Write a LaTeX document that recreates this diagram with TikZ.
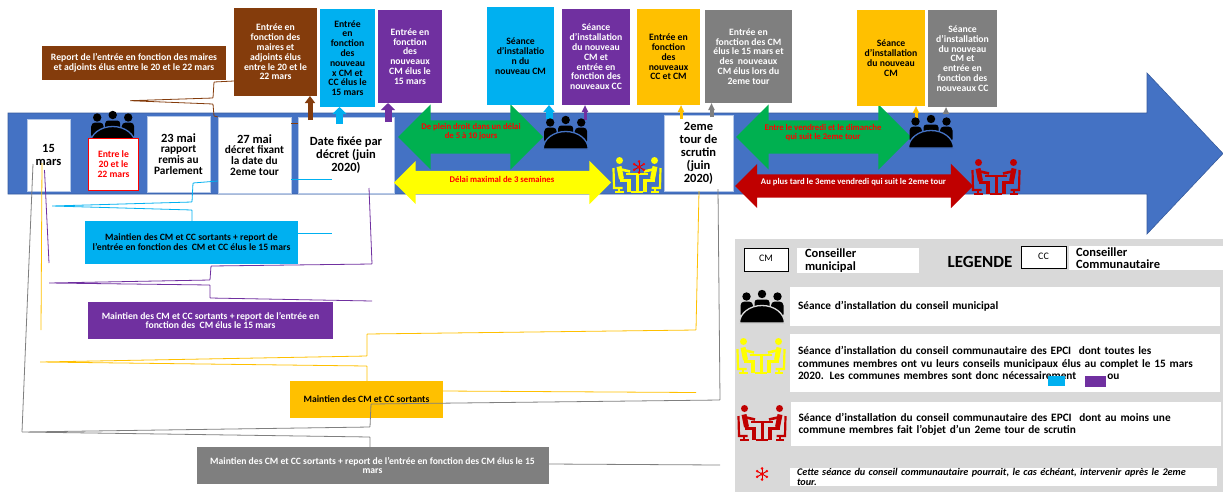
\documentclass[tikz,border=0pt]{standalone}
\usepackage{fontspec}
\setmainfont{Carlito}
\usetikzlibrary{shapes.arrows,arrows.meta}

\definecolor{fond}{HTML}{4472C4}
\definecolor{bleu}{HTML}{00B0F0}
\definecolor{violet}{HTML}{7030A0}
\definecolor{brun}{HTML}{843C0C}
\definecolor{orange}{HTML}{FFC000}
\definecolor{gris}{HTML}{7F7F7F}
\definecolor{vert}{HTML}{00B050}
\definecolor{jaune}{HTML}{FFFF00}
\definecolor{rouge}{HTML}{C00000}
\definecolor{legende}{HTML}{D9D9D9}

\newcommand\petit{\fontsize{9.7}{9.8}\selectfont\bfseries}
\newcommand\fleche{\fontsize{8.7}{9}\selectfont\bfseries}
\newcommand\moyen{\fontsize{11.3}{10.7}\selectfont\bfseries}
\newcommand\grand{\fontsize{12.5}{13}\selectfont\bfseries}
\newcommand\texteleg{\fontsize{11.3}{12.3}\selectfont\bfseries}
\newcommand\maintien{\fontsize{9.65}{10}\selectfont}

\tikzset{
    boite/.style={rectangle, inner sep=0pt, outer sep=0pt, align=center, font=\petit},
    date/.style={boite, fill=white, draw=fond!40, line width=0.6pt},
    rang/.style={rectangle, fill=white, inner xsep=8pt, inner ysep=0pt, outer sep=0pt,
      align=left, font=\texteleg},
    dbl/.style={double arrow, double arrow tip angle=90, inner xsep=0pt, outer sep=0pt},
    grandedbl/.style={dbl, inner ysep=16.5pt, double arrow head extend=16pt},
    petitedbl/.style={dbl, inner ysep=11.5pt, double arrow head extend=10.5pt},
    txtfleche/.style={inner sep=0pt, align=center, font=\fleche},
    montee/.style n args={3}{draw=#1, line width=#2,
      -{Triangle[width=#3, length=7pt]}},
    lien/.style={line width=0.8pt, rounded corners=0.5pt}
}

% trois personnes autour d'une table
\newcommand\seance[3]{
    \begin{scope}[shift={(#1,#2)}]
      \fill[black] (-15.5,6.5) circle (4.2);
      \fill[black] (0,4) circle (4.2);
      \fill[black] (15.5,6.5) circle (4.2);
      \fill[black, rounded corners=4pt] (-21.5,28) -- (-21.5,11.5) -- (-9,11.5) -- (-9,28) -- cycle;
      \fill[black, rounded corners=4pt] (21.5,28) -- (21.5,11.5) -- (9,11.5) -- (9,28) -- cycle;
      \fill[black, rounded corners=3pt] (-7.5,20) -- (-7.5,9.5) -- (7.5,9.5) -- (7.5,20) -- cycle;
      \fill[black, draw=#3, line width=1.3pt] (-22.5,33) arc[start angle=180, end angle=360, x radius=22.5, y radius=17.5] -- cycle;
    \end{scope}
}

% deux personnes de part et d'autre d'une table
\newcommand\conseil[3]{
    \begin{scope}[shift={(#1,#2)}, draw=#3, fill=#3, line width=5pt]
      \foreach \s in {-1,1}{
        \begin{scope}[xscale=\s]
          \fill[#3] (-17.5,3.5) circle (3.5);
          \draw[line join=round] (-18,9.5) -- (-15.5,22);
          \draw[line width=3.6pt] (-17.5,23.5) -- (-8,23.5) -- (-8,35);
          \draw[line width=2.6pt] (-18,12) -- (-7,14.5);
          \draw[line width=2.2pt] (-23.5,11) -- (-23,31) -- (-14.5,31);
          \draw[line width=2.2pt] (-18,31) -- (-18,35.3);
          \draw[line width=2.2pt] (-22,35.3) -- (-13.5,35.3);
        \end{scope}
      }
      \draw[line width=2.4pt] (-11,17) -- (11,17);
      \draw[line width=3pt] (0,17) -- (0,35);
      \draw[line width=2.2pt] (-6,35.3) -- (6,35.3);
    \end{scope}
}

\newcommand\etoile[2]{
    \begin{scope}[shift={(#1,#2)}]
      \foreach \a in {30,90,...,330}{
        \draw[red!80!black, line width=0.9pt] (0,0) -- (\a:5.5);
        \fill[red] (\a:5.6) circle (1.4);
      }
      \fill[red] (0,0) circle (1.8);
    \end{scope}
}

\begin{document}
\begin{tikzpicture}[x=1pt, y=-1pt]
    \useasboundingbox (0,0) rectangle (1223,496);

    \path[fill=fond, draw=fond!80!black, line width=0.6pt] (8,113) -- (1147,113) -- (1147,73)
      -- (1223,153.5) -- (1147,234) -- (1147,194) -- (8,194) -- cycle;

    \seance{112.7}{111}{fond}

    %%%%%%%%%%%%%%%%%%%%%%%%%%%%%%%%%%%%
    % dates

    \node[date, font=\grand, minimum width=43, minimum height=72] (mars) at (48.5,155) {15\\mars};
    \node[date, draw=red, line width=1pt, text=red, minimum width=50, minimum height=52] (tour) at (113.5,164) {Entre le\\20 et le\\22 mars};
    \node[date, font=\moyen, minimum width=63, minimum height=76] (rapport) at (178.5,154) {{\grand 23 mai}\\rapport\\remis au\\Parlement};
    \node[date, font=\moyen, minimum width=73, minimum height=76] (fixant) at (254.5,155) {{\grand 27 mai}\\décret fixant\\la date du\\2eme tour};
    \node[date, font=\grand, minimum width=96, minimum height=76] (decret) at (346,155) {Date fixée par\\décret (juin\\2020)};
    \node[date, font=\grand, minimum width=69, minimum height=76] (second) at (698.5,153) {2eme\\tour de\\scrutin\\(juin\\2020)};

    %%%%%%%%%%%%%%%%%%%%%%%%%%%%%%%%%%%%
    % delais

    \node[grandedbl, fill=vert, minimum height=145] (delaiA) at (470.5,137) {};
    \node[dbl, inner ysep=11.5pt, double arrow head extend=10pt, fill=jaune, minimum height=217] (delaiB) at (502.5,182.5) {};
    \node[grandedbl, fill=vert, minimum height=175] (delaiC) at (823.5,137) {};
    \node[petitedbl, fill=rouge, minimum height=238] (delaiD) at (854,186) {};

    \node[txtfleche, text=red] (txtA) at (471,132) {De plein droit dans un délai\\de 5 à 10 jours};
    \node[txtfleche, text=red] (txtB) at (502,179) {Délai maximal de 3 semaines};
    \node[txtfleche, text=red] (txtC) at (823,132.5) {Entre le vendredi et le dimanche\\qui suit le 2eme tour};
    \node[txtfleche, text=white] (txtD) at (853.5,182) {Au plus tard le 3eme vendredi qui suit le 2eme tour};

    %%%%%%%%%%%%%%%%%%%%%%%%%%%%%%%%%%%%
    % boites du haut

    \node[boite, fill=brun, text=white, minimum width=184, minimum height=34] (report) at (134,63) {Report de l'entrée en fonction des maires\\et adjoints élus entre le 20 et le 22 mars};
    \node[boite, fill=brun, text=white, minimum width=83, minimum height=88] (maires) at (275.5,52) {Entrée en\\fonction des\\maires et\\adjoints élus\\entre le 20 et le\\22 mars};
    \node[boite, fill=bleu, minimum width=55, minimum height=98] (bleuA) at (347.5,58) {Entrée\\en\\fonction\\des\\nouveau\\x CM et\\CC élus le\\15 mars};
    \node[boite, fill=violet, text=white, minimum width=64, minimum height=93] (violetA) at (410,56.5) {Entrée en\\fonction\\des\\nouveaux\\CM élus le\\15 mars};
    \node[boite, fill=bleu, minimum width=67, minimum height=98] (bleuB) at (520.5,56) {Séance\\d'installatio\\n du\\nouveau CM};
    \node[boite, fill=violet, text=white, minimum width=68, minimum height=96] (violetB) at (596,57) {Séance\\d'installation\\du nouveau\\CM et\\entrée en\\fonction des\\nouveaux CC};
    \node[boite, fill=orange, minimum width=63, minimum height=96] (orangeA) at (668.5,57) {Entrée en\\fonction\\des\\nouveaux\\CC et CM};
    \node[boite, fill=gris, text=white, minimum width=87, minimum height=93] (grisA) at (748.5,56.5) {Entrée en\\fonction des CM\\élus le 15 mars et\\des\ \ nouveaux\\CM élus lors du\\2eme tour};
    \node[boite, fill=orange, minimum width=68, minimum height=96] (orangeB) at (891,58) {Séance\\d'installation\\du nouveau\\CM};
    \node[boite, fill=gris, text=white, minimum width=69, minimum height=97] (grisB) at (962.5,58.5) {Séance\\d'installation\\du nouveau\\CM et\\entrée en\\fonction des\\nouveaux CC};

    \coordinate (pieda) at (310,120);
    \coordinate (piedb) at (339.5,124);
    \coordinate (piedc) at (388,122);
    \coordinate (piedd) at (549,119);
    \coordinate (piede) at (585,120);
    \coordinate (piedf) at (681,119);
    \coordinate (piedg) at (711.5,117);
    \coordinate (piedh) at (916,118);
    \coordinate (piedi) at (946,113);
    \draw[montee={brun}{5pt}{10pt}] (pieda) -- (pieda |- maires.south);
    \draw[montee={bleu}{7pt}{14pt}] (piedb) -- (piedb |- bleuA.south);
    \draw[montee={violet}{7pt}{14pt}] (piedc) -- (piedc |- violetA.south);
    \draw[montee={bleu}{7pt}{11pt}] (piedd) -- (piedd |- bleuB.south);
    \draw[montee={violet}{3pt}{6pt}] (piede) -- (piede |- violetB.south);
    \draw[montee={orange}{3pt}{6pt}] (piedf) -- (piedf |- orangeA.south);
    \draw[montee={gris}{4pt}{6pt}] (piedg) -- (piedg |- grisA.south);
    \draw[montee={orange}{3pt}{6pt}] (piedh) -- (piedh |- orangeB.south);
    \draw[montee={gris}{3pt}{6pt}] (piedi) -- (piedi |- grisB.south);

    %%%%%%%%%%%%%%%%%%%%%%%%%%%%%%%%%%%%
    % icones de la frise

    \seance{565.7}{116}{fond}
    \seance{931}{115}{fond}
    \conseil{637}{157}{jaune}
    \conseil{996}{159}{rouge}
    \etoile{639}{167}

    %%%%%%%%%%%%%%%%%%%%%%%%%%%%%%%%%%%%
    % boites du bas

    \node[boite, fill=bleu, minimum width=213, minimum height=43] (maintienA) at (191.5,242.5) {\maintien Maintien des CM et CC sortants + report de\\l'entrée en fonction des\ \ CM et CC élus le 15 mars};
    \node[boite, fill=violet, text=white, minimum width=245, minimum height=37] (maintienB) at (210.5,320.5) {\maintien Maintien des CM et CC sortants + report de l'entrée en\\fonction des\ \ CM élus le 15 mars};
    \node[boite, fill=orange, minimum width=153, minimum height=37] (maintienC) at (366.5,399.5) {\maintien Maintien des CM et CC sortants};
    \node[boite, fill=gris, text=white, minimum width=352, minimum height=37] (maintienD) at (372.5,465.5) {\maintien Maintien des CM et CC sortants + report de l'entrée en fonction des CM élus le 15\\mars};

    \coordinate (finbleuA) at (332,179);
    \coordinate (finbleuB) at (332,233);
    \coordinate (finorange) at (696,392.5);
    \coordinate (fingris) at (720,465);
    \coordinate (hautviolet) at (369,188);
    \coordinate (hautorange) at (699,191);
    \coordinate (hautgris) at (718,189);
    \coordinate (departA) at (33,164);
    \coordinate (departB) at (42,163);
    \coordinate (departC) at (44.5,170);

    \draw[lien, brun] (maires.south west |- 0,81) -- (214,82) -- (213,98) -- (130,100.7) -- (213,104) -- (214,116) -- (fixant.north west);
    \draw[lien, brun] (fixant.north east |- 0,123) -- (decret.north west |- 0,123);

    \draw[lien, bleu] (fixant.west |- 0,181) -- (193,183) -- (192,202) -- (52,206) -- (192,210) -- (maintienA.north -| 192,0);
    \draw[lien, bleu] (fixant.east |- 0,179) -- (finbleuA);
    \draw[lien, bleu] (maintienA.east |- 0,233) -- (finbleuB);

    \draw[lien, violet] (hautviolet) -- (372,264) -- (211,266) -- (210,280) -- (49,283) -- (210,285) -- (210,298) -- (372,301);
    \draw[lien, violet] (departC) -- (49,263);

    \draw[lien, orange] (hautorange) -- (696,330) -- (367,334) -- (367,356) -- (40,362) -- (367,366) -- (maintienC.north -| 367,0);
    \draw[lien, orange] (maintienC.east |- 0,391) -- (finorange);
    \draw[lien, orange] (departB) -- (41,330);

    \draw[lien, gris] (hautgris) -- (720,400) -- (371,404) -- (370,427) -- (22,432) -- (370,437) -- (maintienD.north -| 370,0);
    \draw[lien, gris] (maintienD.east |- 0,464) -- (fingris);
    \draw[lien, gris] (departA) -- (22,432);

    %%%%%%%%%%%%%%%%%%%%%%%%%%%%%%%%%%%%
    % legende

    \node[rectangle, fill=legende, inner sep=0pt, outer sep=0pt, minimum width=488, minimum height=253] (cadre) at (979,365.5) {};

    \node[rectangle, fill=white, draw=black, line width=0.6pt, inner sep=0pt, font=\fontsize{10}{11}\selectfont, minimum width=44, minimum height=23] (cm) at (766,259.5) {\raisebox{2.5pt}{CM}};
    \node[rang, fill=white, text width=106, minimum height=25] (cmtxt) at (858,260.5) {\fontsize{12.5}{12.5}\selectfont Conseiller\\municipal};
    \node[inner sep=0pt, font=\fontsize{17}{18}\selectfont\bfseries] (legtitre) at (980,262) {LEGENDE};
    \node[rectangle, fill=white, draw=black, line width=0.6pt, inner sep=0pt, font=\fontsize{10}{11}\selectfont, minimum width=45, minimum height=22] (cc) at (1043.5,257) {\raisebox{2.5pt}{CC}};
    \node[rang, fill=white, inner xsep=7pt, text width=140, minimum height=24] (cctxt) at (1146,258) {\fontsize{12.5}{12.5}\selectfont Conseiller\\Communautaire};

    \node[rang, text width=414, minimum height=39] (rangA) at (1005,306.5) {Séance d'installation du conseil municipal};
    \node[rang, text width=414, minimum height=58] (rangB) at (1005,363) {Séance d'installation du conseil communautaire des EPCI\ \ dont toutes les\\communes membres ont vu leurs conseils municipaux élus au complet le 15 mars\\2020. Les communes membres sont donc nécessairement\hspace*{31pt}ou};
    \node[rang, text width=414, minimum height=44] (rangC) at (1005.5,424) {Séance d'installation du conseil communautaire des EPCI\ \ dont au moins une\\commune membres fait l'objet d'un 2eme tour de scrutin};
    \node[rang, inner xsep=7pt, text width=413, minimum height=18, font=\fontsize{10.2}{10}\selectfont\bfseries\itshape] (rangD) at (1003.5,477) {Cette séance du conseil communautaire pourrait, le cas échéant, intervenir après le 2eme\\tour.};

    \node[rectangle, fill=bleu, inner sep=0pt, minimum width=17, minimum height=10] (carreA) at (1056.5,381) {};
    \node[rectangle, fill=violet, inner sep=0pt, minimum width=21, minimum height=11] (carreB) at (1095.5,381.5) {};

    \seance{762}{290}{legende}
    \conseil{761}{338}{jaune}
    \conseil{762}{405}{rouge}
    \etoile{762}{474}

\end{tikzpicture}
\end{document}
